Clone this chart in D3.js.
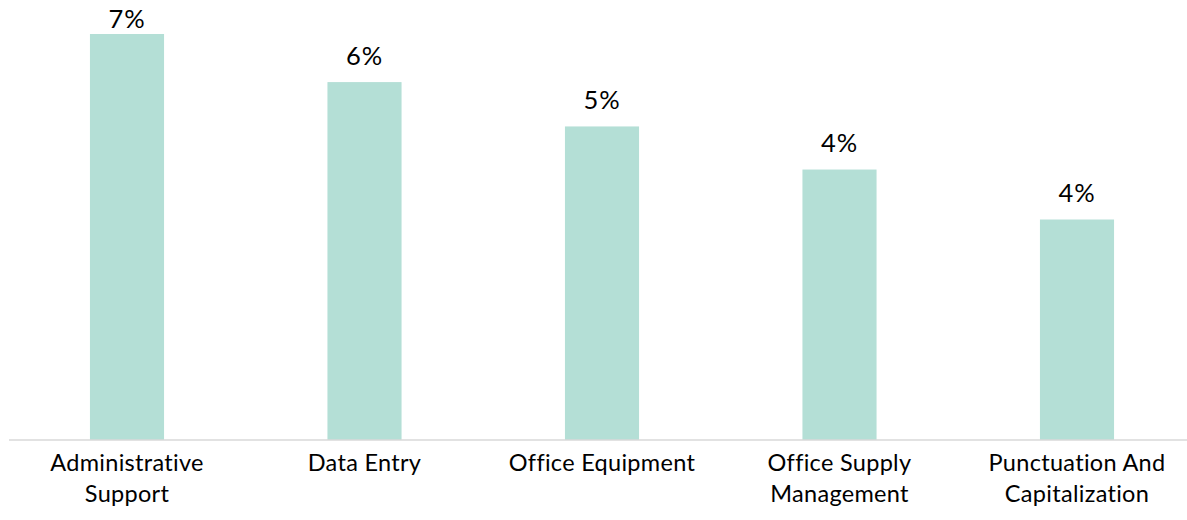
<!DOCTYPE html>
<html>
<head>
<meta charset="utf-8">
<script src="https://cdn.jsdelivr.net/npm/d3@7"></script>
<style>
  html, body { margin: 0; padding: 0; background: #ffffff; }
  svg { display: block; font-family: "Lato", "Noto Sans", sans-serif; }
</style>
</head>
<body>
<svg id="chart" width="1187" height="520"></svg>
<script>
const categories = [
  ["Administrative", "Support"],
  ["Data Entry"],
  ["Office Equipment"],
  ["Office Supply", "Management"],
  ["Punctuation And", "Capitalization"]
];
const values = [6.5, 5.73, 5.02, 4.33, 3.53];
const valueLabels = ["7%", "6%", "5%", "4%", "4%"];

const W = 1187, H = 520;
const baseline = 440, plotTop = 34;
const svg = d3.select("#chart");

const keys = categories.map(c => c.join(" "));
const x = d3.scaleBand()
  .domain(keys)
  .range([8.25, 1195.75])
  .paddingInner(0.688)
  .paddingOuter(0.344);

const y = d3.scaleLinear()
  .domain([0, d3.max(values)])
  .range([baseline, plotTop]);

// bars
svg.selectAll("rect.bar")
  .data(values)
  .join("rect")
  .attr("class", "bar")
  .attr("x", (d, i) => x(keys[i]))
  .attr("width", x.bandwidth())
  .attr("y", d => y(d))
  .attr("height", d => baseline - y(d))
  .attr("fill", "#b4dfd6");

// axis
const axis = svg.append("g")
  .attr("transform", `translate(0,${baseline})`)
  .call(d3.axisBottom(x).tickSize(0).tickFormat(""));
axis.select(".domain")
  .attr("stroke", "#d9d9d9")
  .attr("stroke-width", 1.5)
  .attr("d", `M9,0H${W}`);

// category labels
const lab = svg.append("g");
categories.forEach((lines, i) => {
  const t = lab.append("text")
    .attr("x", x(keys[i]) + x.bandwidth() / 2)
    .attr("y", baseline + 31)
    .attr("text-anchor", "middle")
    .attr("font-size", 23.5)
    .attr("letter-spacing", 0.3)
    .attr("fill", "#000");
  lines.forEach((ln, j) => {
    t.append("tspan")
      .attr("x", x(keys[i]) + x.bandwidth() / 2)
      .attr("dy", j === 0 ? 0 : 30.5)
      .text(ln);
  });
});

// value labels (kept inside the chart area at the top)
svg.selectAll("text.val")
  .data(values)
  .join("text")
  .attr("class", "val")
  .attr("x", (d, i) => x(keys[i]) + x.bandwidth() / 2)
  .attr("y", d => Math.max(y(d) - 17.5, 28))
  .attr("text-anchor", "middle")
  .attr("font-size", 25.5)
  .attr("letter-spacing", 1)
  .attr("fill", "#000")
  .text((d, i) => valueLabels[i]);
</script>
</body>
</html>
